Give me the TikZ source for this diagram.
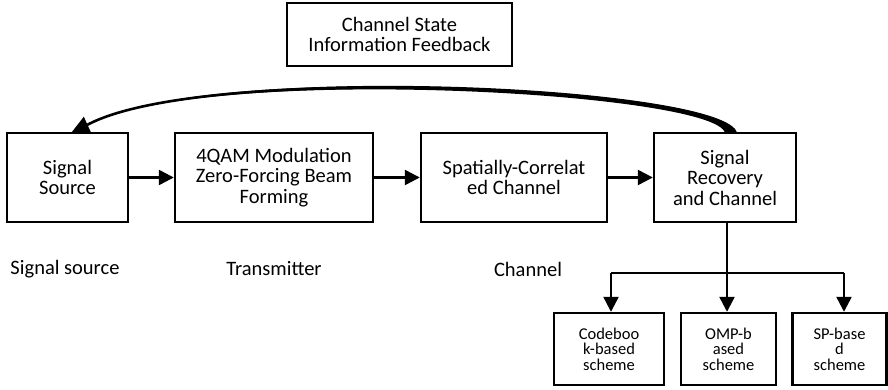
\documentclass[tikz,border=0pt]{standalone}
\usepackage{fontspec}
\setmainfont{Carlito}
\usetikzlibrary{arrows.meta,calc}
\begin{document}
\begin{tikzpicture}[x=1pt,y=-1pt,
  box/.style={draw, line width=2.4pt, align=center, inner sep=0pt,
    font=\fontsize{20.5}{20.5}\selectfont},
  small/.style={draw, line width=2.4pt, align=center, inner sep=0pt,
    font=\fontsize{16.5}{15.5}\selectfont},
  lbl/.style={font=\fontsize{20.5}{20}\selectfont, inner sep=0pt},
  arr/.style={line width=2.4pt, -{Triangle[length=15pt,width=15pt]}},
  tip/.style={-{Triangle[length=17pt,width=17pt]}}]
\useasboundingbox (0,0) rectangle (888,390);
\node[box, minimum width=225pt, minimum height=63pt] (csi) at (399.5,34.5) {Channel State\\Information Feedback};
\node[box, minimum width=121pt, minimum height=89pt] (ss) at (67.5,177.5) {Signal\\Source};
\node[box, minimum width=198pt, minimum height=89pt] (qam) at (274,177.5) {4QAM Modulation\\Zero-Forcing Beam\\Forming};
\node[box, minimum width=186pt, minimum height=89pt] (sc) at (514,177.5) {Spatially-Correlat\\ed Channel};
\node[box, minimum width=142pt, minimum height=89pt] (sr) at (725,177.5) {Signal\\Recovery\\and Channel};
\node[small, minimum width=110pt, minimum height=72pt] (b1) at (609,349) {Codeboo\\k-based\\scheme};
\node[small, minimum width=95pt, minimum height=72pt] (b2) at (728.5,349) {OMP-b\\ased\\scheme};
\node[small, minimum width=94pt, minimum height=72pt] (b3) at (839.5,349) {SP-base\\d\\scheme};
\node[lbl] (l1) at (65,269) {Signal source};
\node[lbl] (l2) at (274,269) {Transmitter};
\node[lbl] (l3) at (528,269) {Channel};
\draw[arr] (ss) -- (qam);
\draw[arr] (qam) -- (sc);
\draw[arr] (sc) -- (sr);
\coordinate (j1) at (611,273);
\coordinate (j3) at (844,273);
\draw[line width=1.5pt] (j1) -- (j3);
\draw[arr] (sr.south -| 727,0) -- (b2.north -| 727,0);
\draw[arr] (j1) -- (j1 |- b1.north);
\draw[arr] (j3) -- (j3 |- b3.north);
% tapered body of the feedback curve
\coordinate (fb) at (87,125);
\fill (737,133) .. controls (728,86) and (205,59.5) .. (fb)
  .. controls (205,63.5) and (716,92) .. (725,133) -- cycle;
\draw[line width=2.6pt, tip] ($(sr.north)+(6,0)$) .. controls (722,89) and (205,61.5) .. (fb) -- ($(ss.north)+(4.5,0)$);
\end{tikzpicture}
\end{document}
